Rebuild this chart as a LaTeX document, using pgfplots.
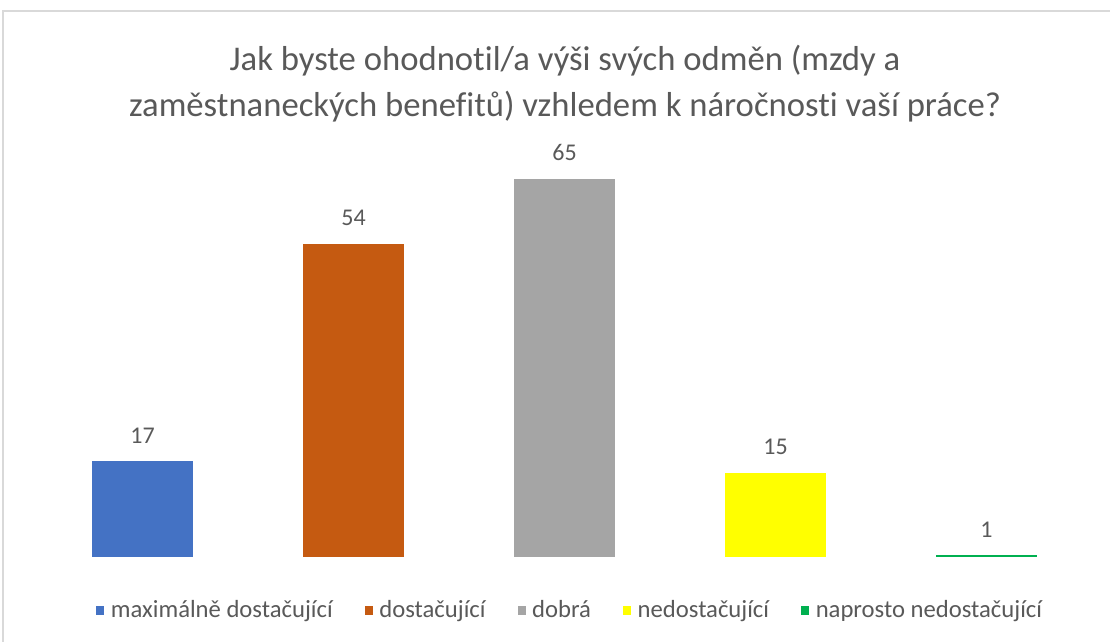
\documentclass[border=0pt]{standalone}
\usepackage{pgfplots}
\pgfplotsset{compat=1.18}
\usepackage{fontspec}
\setmainfont{Carlito}[Ligatures=NoCommon]
\definecolor{txt}{HTML}{595959}
\definecolor{cA}{HTML}{4472C4}
\definecolor{cB}{HTML}{C55A11}
\definecolor{cC}{HTML}{A5A5A5}
\definecolor{cD}{HTML}{FFFF00}
\definecolor{cE}{HTML}{00B050}
\begin{document}
\begin{tikzpicture}[x=0.75pt,y=0.75pt]
\useasboundingbox (0,0) rectangle (1110,642);
\draw[black!15, line width=1.5pt] (3,0) -- (3,631) -- (1110,631);
\node[txt, font=\fontsize{26}{34.5}\selectfont, align=center] at (565,558)
  {Jak byste ohodnotil/a výši svých odměn (mzdy a\\zaměstnaneckých benefitů) vzhledem k náročnosti vaší práce?};
\coordinate (O) at (37,85);
\begin{axis}[
  at={(O)}, anchor=south west,
  scale only axis, width=791.25pt, height=314.4pt,
  xmin=-0.5, xmax=4.5, ymin=0.7, ymax=72,
  hide axis,
  ybar, bar width=75.75pt, bar shift=0pt,
  nodes near coords,
  /pgf/number format/assume math mode=true,
  every node near coord/.append style={txt, font=\fontsize{18}{22}\selectfont, yshift=10pt},
  legend columns=5,
  legend style={draw=none, at={(0.5,0)}, anchor=center, yshift=-40pt, xshift=4.5pt,
    font=\fontsize{18.5}{22}\selectfont, text=txt, inner sep=0pt,
    /tikz/every odd column/.append style={column sep=3pt},
    /tikz/every even column/.append style={column sep=22pt}},
  legend image code/.code={\fill[#1] (0pt,-3.2pt) rectangle (6pt,3.2pt);},
]
\addplot[fill=cA, draw=none] coordinates {(0,17)};
\addlegendentry{maximálně dostačující}
\addplot[fill=cB, draw=none] coordinates {(1,54)};
\addlegendentry{dostačující}
\addplot[fill=cC, draw=none] coordinates {(2,65)};
\addlegendentry{dobrá}
\addplot[fill=cD, draw=none] coordinates {(3,15)};
\addlegendentry{nedostačující}
\addplot[fill=cE, draw=none] coordinates {(4,1)};
\addlegendentry{naprosto nedostačující}
\end{axis}
\end{tikzpicture}
\end{document}
